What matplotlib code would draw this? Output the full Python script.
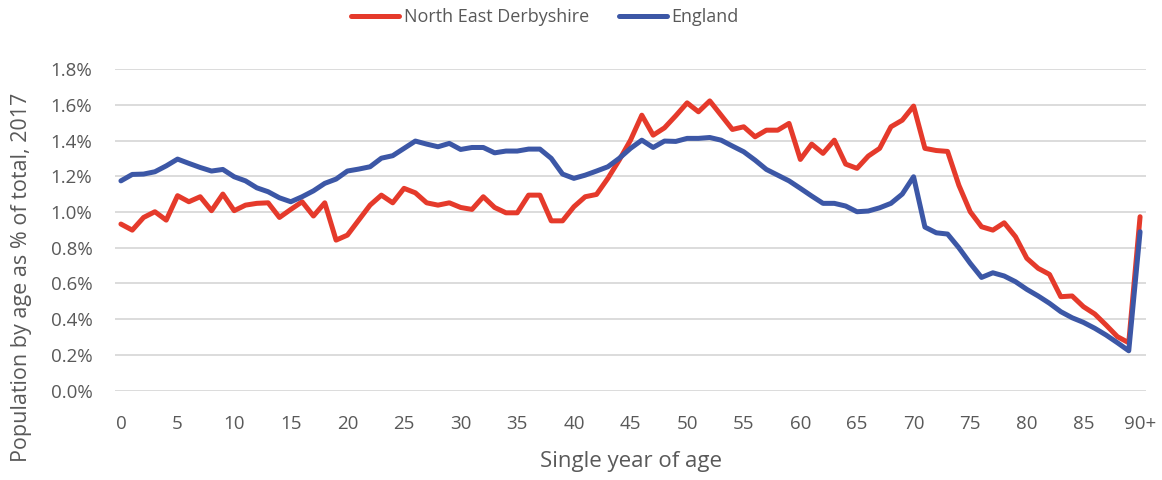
import matplotlib
matplotlib.use('Agg')
import matplotlib.pyplot as plt
import numpy as np

plt.rcParams['font.family'] = ['Open Sans', 'DejaVu Sans']

# 按单岁年龄的人口占比 (%), 0..89 及 90+
ages = list(range(91))
tick_labels = [str(a) for a in range(0, 90, 5)] + ['90+']

ne_derbyshire = [
    0.933, 0.899, 0.970, 1.002, 0.955, 1.092, 1.058, 1.086, 1.008, 1.101,
    1.008, 1.039, 1.049, 1.052, 0.970, 1.015, 1.058, 0.978, 1.052, 0.843,
    0.871, 0.955, 1.039, 1.095, 1.052, 1.133, 1.108, 1.052, 1.039, 1.052,
    1.026, 1.015, 1.086, 1.026, 0.996, 0.996, 1.095, 1.095, 0.951, 0.951,
    1.030, 1.086, 1.099, 1.189, 1.291, 1.403, 1.543, 1.431, 1.472, 1.540,
    1.612, 1.562, 1.623, 1.543, 1.463, 1.478, 1.422, 1.459, 1.459, 1.497,
    1.295, 1.381, 1.329, 1.403, 1.269, 1.245, 1.314, 1.357, 1.478, 1.515,
    1.594, 1.357, 1.345, 1.340, 1.150, 1.002, 0.918, 0.899, 0.940, 0.862,
    0.741, 0.685, 0.651, 0.526, 0.530, 0.470, 0.429, 0.367, 0.302, 0.268,
    0.974,
]

england = [
    1.175, 1.211, 1.213, 1.226, 1.259, 1.297, 1.273, 1.250, 1.230, 1.239,
    1.198, 1.175, 1.136, 1.114, 1.080, 1.058, 1.086, 1.119, 1.161, 1.185,
    1.230, 1.241, 1.254, 1.302, 1.316, 1.357, 1.398, 1.381, 1.366, 1.385,
    1.351, 1.362, 1.362, 1.332, 1.342, 1.342, 1.353, 1.353, 1.301, 1.213,
    1.189, 1.207, 1.230, 1.254, 1.301, 1.357, 1.403, 1.362, 1.398, 1.396,
    1.413, 1.413, 1.418, 1.403, 1.370, 1.338, 1.291, 1.239, 1.207, 1.175,
    1.133, 1.090, 1.049, 1.049, 1.034, 1.002, 1.006, 1.024, 1.049, 1.101,
    1.198, 0.916, 0.884, 0.877, 0.800, 0.713, 0.634, 0.660, 0.642, 0.610,
    0.567, 0.530, 0.489, 0.442, 0.408, 0.382, 0.349, 0.311, 0.268, 0.223,
    0.890,
]

C = {'ne': '#E53A2B', 'eng': '#3C57A6', 'text': '#595959', 'grid': '#D9D9D9'}

fig = plt.figure(figsize=(11.62, 4.8), dpi=100)
ax = fig.add_axes([0.0992, 0.1863, 0.8868, 0.6693])

ax.plot(ages, ne_derbyshire, color=C['ne'], linewidth=3.6,
        solid_capstyle='round', solid_joinstyle='round', label='North East Derbyshire')
ax.plot(ages, england, color=C['eng'], linewidth=3.6,
        solid_capstyle='round', solid_joinstyle='round', label='England')

ax.set_xlim(-0.5, 90.5)
ax.set_ylim(0, 1.8)
ax.set_yticks(np.arange(0, 1.81, 0.2))
ax.set_yticklabels([f'{v:.1f}%' for v in np.arange(0, 1.81, 0.2)])
ax.set_xticks(list(range(0, 91, 5)))
ax.set_xticklabels(tick_labels)

ax.grid(axis='y', color=C['grid'], linewidth=1.3)
ax.set_axisbelow(True)
for s in ax.spines.values():
    s.set_visible(False)
ax.tick_params(length=0, labelsize=13.5, labelcolor=C['text'])
ax.tick_params(axis='y', pad=16.5)
ax.tick_params(axis='x', pad=17.5)

ax.set_xlabel('Single year of age', fontsize=16, color=C['text'])
ax.set_ylabel('Population by age as % of total, 2017', fontsize=15.5, color=C['text'])
ax.xaxis.set_label_coords(0.5005, -0.188)
ax.yaxis.set_label_coords(-0.081, 0.354)

fig.legend(handles=ax.get_lines(), loc='center', bbox_to_anchor=(0.469, 1 - 17 / 480),
           ncol=2, frameon=False, fontsize=13, labelcolor=C['text'],
           handlelength=2.66, handletextpad=0.25, columnspacing=1.65)

fig.savefig('out.png', dpi=100, facecolor='white')
